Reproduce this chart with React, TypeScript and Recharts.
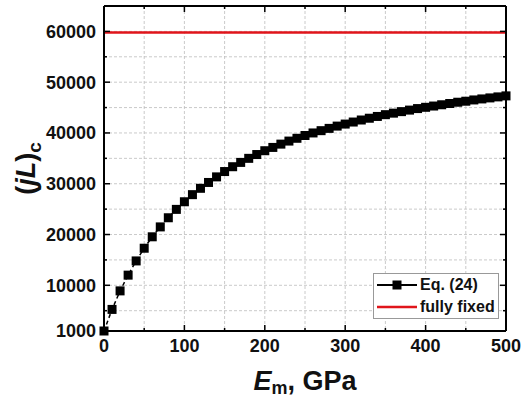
import { CartesianGrid, Legend, Line, LineChart, XAxis, YAxis } from "recharts";

// E_m in GPa
const modulus = [
  0, 10, 20, 30, 40, 50, 60, 70, 80, 90, 100, 110, 120, 130, 140, 150, 160,
  170, 180, 190, 200, 210, 220, 230, 240, 250, 260, 270, 280, 290, 300, 310,
  320, 330, 340, 350, 360, 370, 380, 390, 400, 410, 420, 430, 440, 450, 460,
  470, 480, 490, 500,
];

const criticalJL = [
  1000, 5250, 8900, 12000, 14800, 17300, 19550, 21500, 23300, 24950, 26450,
  27850, 29100, 30250, 31350, 32400, 33350, 34200, 35000, 35750, 36500, 37150,
  37800, 38400, 38950, 39500, 40000, 40450, 40900, 41350, 41750, 42150, 42550,
  42900, 43250, 43600, 43900, 44200, 44500, 44800, 45050, 45300, 45550, 45800,
  46050, 46250, 46500, 46700, 46900, 47100, 47300,
];

const fullyFixedLevel = 59800;

const xTicks = [0, 50, 100, 150, 200, 250, 300, 350, 400, 450, 500];
const xLabels = [0, 100, 200, 300, 400, 500];
const yTicks = [
  1000, 5000, 10000, 15000, 20000, 25000, 30000, 35000, 40000, 45000, 50000,
  55000, 60000, 65000,
];
const yLabels = [1000, 10000, 20000, 30000, 40000, 50000, 60000];

const eqData = modulus.map((e, i) => ({ e, jl: criticalJL[i] }));
const fixedData = [
  { e: modulus[0], fixed: fullyFixedLevel },
  { e: modulus[modulus.length - 1], fixed: fullyFixedLevel },
];

const FONT = '"Liberation Sans", Arial, sans-serif';
const MARGIN = 8;

const BottomTick = ({ x, y, payload }: any) => {
  const v = payload.value;
  const major = xLabels.includes(v);
  const axisY = y - MARGIN;
  return (
    <g>
      <line x1={x} x2={x} y1={axisY} y2={axisY - (major ? 6 : 3)} stroke="#000" strokeWidth={1.5} />
      {major && (
        <text x={x} y={y} dy="0.72em" textAnchor="middle" fontFamily={FONT} fontWeight="bold" fontSize={18} fill="#111">
          {v}
        </text>
      )}
    </g>
  );
};

const TopTick = ({ x, y, payload }: any) => {
  const major = xLabels.includes(payload.value);
  return <line x1={x} x2={x} y1={y} y2={y + (major ? 6 : 3)} stroke="#000" strokeWidth={1.5} />;
};

const LeftTick = ({ x, y, payload }: any) => {
  const v = payload.value;
  const major = yLabels.includes(v);
  const axisX = x + MARGIN;
  return (
    <g>
      <line x1={axisX} x2={axisX + (major ? 6 : 3)} y1={y} y2={y} stroke="#000" strokeWidth={1.5} />
      {major && (
        <text x={x} y={y} dy="0.36em" textAnchor="end" fontFamily={FONT} fontWeight="bold" fontSize={18} fill="#111">
          {v}
        </text>
      )}
    </g>
  );
};

const RightTick = ({ x, y, payload }: any) => {
  const major = yLabels.includes(payload.value);
  return <line x1={x} x2={x - (major ? 6 : 3)} y1={y} y2={y} stroke="#000" strokeWidth={1.5} />;
};

const SquareDot = ({ cx, cy, index }: any) => (
  <rect key={index} x={cx - 4.5} y={cy - 4.5} width={9} height={9} fill="#000" />
);

const YTitle = ({ viewBox }: any) => {
  const cx = viewBox.x + 35;
  const cy = viewBox.y + viewBox.height / 2;
  return (
    <text x={cx} y={cy} transform={`rotate(-90 ${cx} ${cy})`} textAnchor="middle" fontFamily={FONT} fontWeight="bold" fontSize={27} fill="#111">
      (<tspan fontStyle="italic">jL</tspan>)
      <tspan dy={6} fontSize={19}>c</tspan>
    </text>
  );
};

const XTitle = ({ viewBox }: any) => {
  const cx = viewBox.x + viewBox.width / 2;
  const cy = viewBox.y + 59;
  return (
    <text x={cx} y={cy} textAnchor="middle" fontFamily={FONT} fontWeight="bold" fontSize={27} fill="#111">
      <tspan fontStyle="italic">E</tspan>
      <tspan dy={4} fontSize={18}>m</tspan>
      <tspan dy={-4}>, GPa</tspan>
    </text>
  );
};

const LegendBox = () => (
  <div
    style={{
      boxSizing: "border-box",
      width: 126,
      height: 46,
      border: "1px solid #999",
      background: "#fff",
      padding: "0 3px",
      fontFamily: FONT,
      fontWeight: "bold",
      fontSize: 16,
      color: "#111",
    }}
  >
    <div style={{ display: "flex", alignItems: "center", height: 22 }}>
      <svg width={40} height={12}>
        <line x1={0} x2={40} y1={6} y2={6} stroke="#000" strokeWidth={2} />
        <rect x={15.5} y={1.5} width={9} height={9} fill="#000" />
      </svg>
      <span style={{ marginLeft: 3 }}>Eq. (24)</span>
    </div>
    <div style={{ display: "flex", alignItems: "center", height: 22 }}>
      <svg width={40} height={12}>
        <line x1={0} x2={40} y1={6} y2={6} stroke="#e0151b" strokeWidth={2.5} />
      </svg>
      <span style={{ marginLeft: 3 }}>fully fixed</span>
    </div>
  </div>
);

export default function App() {
  return (
    <div>
      <style>{"body{margin:0}"}</style>
      <LineChart width={521} height={400} margin={{ top: 5, right: 14, bottom: 0, left: 0 }}>
        <CartesianGrid strokeDasharray="3 2" stroke="#bdbdbd" strokeWidth={0.8} />
        <XAxis
          dataKey="e"
          type="number"
          domain={[0, 500]}
          ticks={xTicks}
          interval={0}
          height={69}
          tickSize={0}
          tickMargin={MARGIN}
          tick={BottomTick}
          axisLine={{ stroke: "#000", strokeWidth: 2 }}
          label={XTitle}
        />
        <XAxis
          xAxisId="top"
          orientation="top"
          dataKey="e"
          type="number"
          domain={[0, 500]}
          ticks={xTicks}
          interval={0}
          height={1}
          tickSize={0}
          tickMargin={0}
          tick={TopTick}
          axisLine={{ stroke: "#000", strokeWidth: 2 }}
        />
        <YAxis
          type="number"
          domain={[1000, 65000]}
          ticks={yTicks}
          interval={0}
          width={104}
          tickSize={0}
          tickMargin={MARGIN}
          tick={LeftTick}
          axisLine={{ stroke: "#000", strokeWidth: 2 }}
          label={YTitle}
        />
        <YAxis
          yAxisId="right"
          orientation="right"
          type="number"
          domain={[1000, 65000]}
          ticks={yTicks}
          interval={0}
          width={1}
          tickSize={0}
          tickMargin={0}
          tick={RightTick}
          axisLine={{ stroke: "#000", strokeWidth: 2 }}
        />
        <Line
          data={fixedData}
          dataKey="fixed"
          xAxisId="top"
          yAxisId="right"
          stroke="#e0151b"
          strokeWidth={2.5}
          dot={false}
          isAnimationActive={false}
        />
        <Line
          data={eqData}
          dataKey="jl"
          stroke="#000"
          strokeWidth={1.5}
          strokeDasharray="4 3"
          dot={SquareDot}
          isAnimationActive={false}
        />
        <Legend
          layout="horizontal"
          verticalAlign="middle"
          align="center"
          content={LegendBox}
          wrapperStyle={{ left: 373, top: 273, width: 126, height: 46 }}
        />
      </LineChart>
    </div>
  );
}
